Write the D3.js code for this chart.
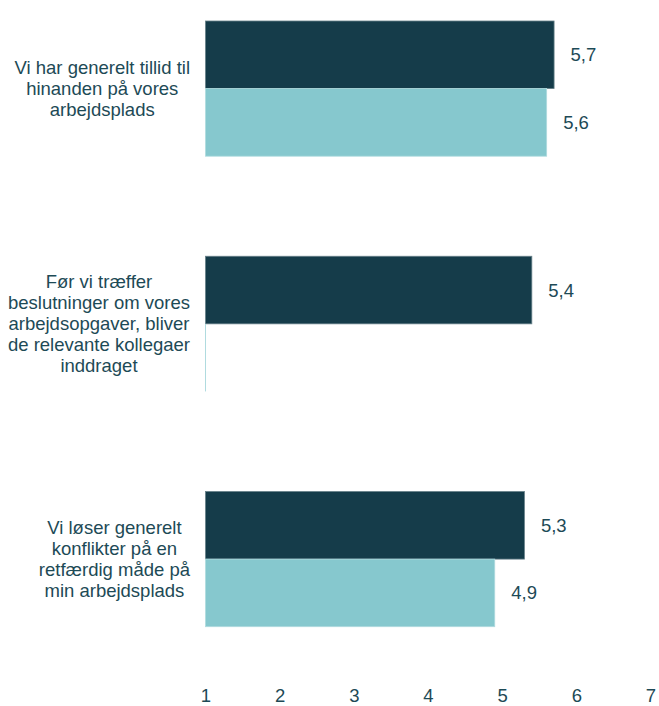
<!DOCTYPE html>
<html>
<head>
<meta charset="utf-8">
<script src="https://cdn.jsdelivr.net/npm/d3@7"></script>
<style>
  html, body { margin: 0; padding: 0; background: #ffffff; }
  svg { display: block; font-family: "Liberation Sans", Arial, sans-serif; }
</style>
</head>
<body>
<svg id="chart" width="659" height="706"></svg>
<script>
// ---- data ----
const categories = [
  "Vi har generelt tillid til\nhinanden på vores\narbejdsplads",
  "Før vi træffer\nbeslutninger om vores\narbejdsopgaver, bliver\nde relevante kollegaer\ninddraget",
  "Vi løser generelt\nkonflikter på en\nretfærdig måde på\nmin arbejdsplads"
];
const seriesNames = ["Serie 1", "Serie 2"];
const series1Values = [5.7, 5.4, 5.3];
const series2Values = [5.6, null, 4.9];
const seriesColors = ["#153c4a", "#86c8ce"];
const tickValues = [1, 2, 3, 4, 5, 6, 7];

const rows = categories.map((c, i) => ({
  category: c,
  values: [series1Values[i], series2Values[i]]
}));

// ---- layout ----
const textColor = "#1d4a56";
const fontSize = 18.5;
const lineHeight = 21;

const svg = d3.select("#chart");

const x = d3.scaleLinear().domain([1, 7]).range([205.5, 650.5]);
const y = d3.scaleBand().domain(categories).range([21, 626.7]).paddingInner(0.4253).paddingOuter(0);
const ySub = d3.scaleBand().domain(seriesNames).range([0, y.bandwidth()]).padding(0);

// bars
const groups = svg.append("g").selectAll("g.grp")
  .data(rows).join("g")
  .attr("class", "grp")
  .attr("transform", d => `translate(0,${y(d.category)})`);

groups.each(function(row) {
  const g = d3.select(this);
  row.values.forEach((v, si) => {
    const fill = seriesColors[si];
    const edge = d3.interpolateRgb(fill, "#ffffff")(0.35);
    const x0 = x(x.domain()[0]);
    const yTop = ySub(seriesNames[si]);
    if (v == null) {
      // empty value: only the bar outline at the axis start is visible
      g.append("line")
        .attr("x1", x0).attr("x2", x0)
        .attr("y1", yTop).attr("y2", yTop + ySub.bandwidth())
        .attr("stroke", edge)
        .attr("stroke-width", 1);
      return;
    }
    g.append("rect")
      .attr("x", x0)
      .attr("y", yTop)
      .attr("width", x(v) - x0)
      .attr("height", ySub.bandwidth())
      .attr("fill", fill)
      .attr("stroke", edge)
      .attr("stroke-width", 0.8);
    g.append("text")
      .attr("x", x(v) + 16.5)
      .attr("y", yTop + ySub.bandwidth() / 2)
      .attr("dy", "0.35em")
      .attr("fill", textColor)
      .style("font-size", fontSize + "px")
      .text(d3.format(".1f")(v).replace(".", ","));
  });
});

// category labels (block right-aligned, lines centred within block)
const labelRight = 190;
const labels = svg.append("g").selectAll("g.lbl")
  .data(categories).join("g").attr("class", "lbl");

labels.each(function(c) {
  const g = d3.select(this);
  const lines = c.split("\n");
  const cy = y(c) + y.bandwidth() / 2;
  const texts = lines.map((ln, i) => g.append("text")
    .attr("y", cy + (i - (lines.length - 1) / 2) * lineHeight)
    .attr("dy", "0.35em")
    .attr("text-anchor", "middle")
    .attr("fill", textColor)
    .style("font-size", fontSize + "px")
    .text(ln));
  const maxW = d3.max(texts, t => t.node().getComputedTextLength());
  texts.forEach(t => t.attr("x", labelRight - maxW / 2));
});

// x axis
const axis = svg.append("g")
  .attr("transform", "translate(0,689)")
  .call(d3.axisBottom(x).tickValues(tickValues).tickSize(0).tickPadding(0).tickFormat(d3.format("d")));
axis.select(".domain").remove();
axis.selectAll("text")
  .attr("fill", textColor)
  .style("font-size", fontSize + "px")
  .style("font-family", "\"Liberation Sans\", Arial, sans-serif");
</script>
</body>
</html>
